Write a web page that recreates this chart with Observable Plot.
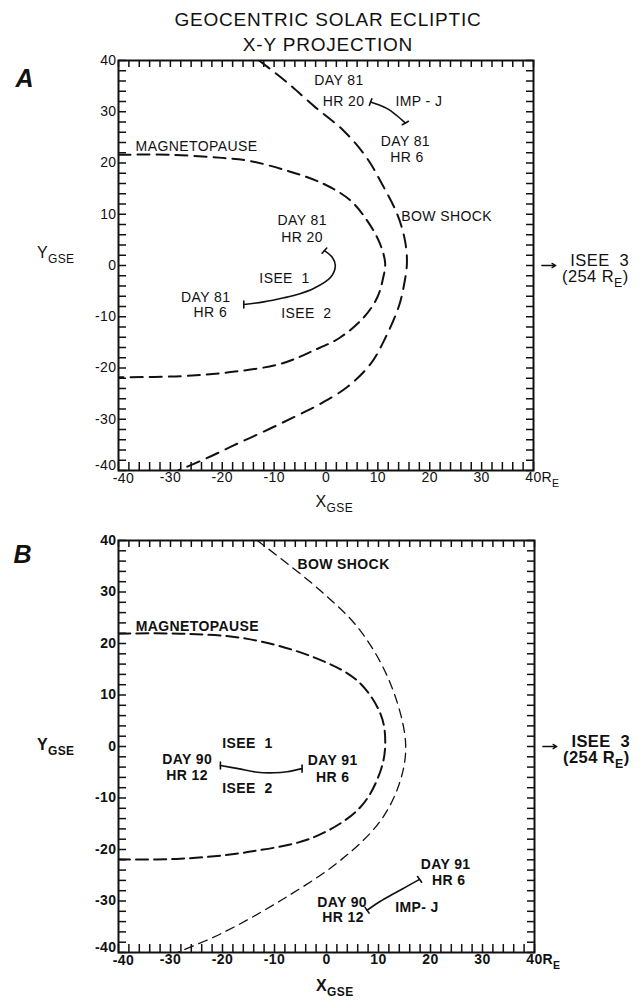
<!DOCTYPE html>
<html><head><meta charset="utf-8">
<script src="https://cdn.jsdelivr.net/npm/d3@7"></script>
<script src="https://cdn.jsdelivr.net/npm/@observablehq/plot@0.6"></script>
<style>
body{margin:0;background:#fff;font-family:"Liberation Sans",Arial,sans-serif;color:#111}
#wrap{position:relative;width:644px;height:1000px;overflow:hidden;background:#fff}
.title{position:absolute;z-index:2;left:0;width:656px;text-align:center;font-size:19px;line-height:25px;letter-spacing:0.8px;top:7px}
#pa{position:absolute;top:40px;left:0;z-index:1}
#pb{position:absolute;top:520px;left:0;z-index:1}
</style></head><body>
<div id="wrap">
<div id="pa"></div><div id="pb"></div>
<div class="title">GEOCENTRIC SOLAR ECLIPTIC<br>X-Y PROJECTION</div>
</div>
<script>
// ---- axis ticks ----
const minorTicks = d3.range(-40, 41, 2);
const tickLabels = [-40, -30, -20, -10, 0, 10, 20, 30, 40];

// ---- Panel A (Day 81) ----
const magnetopauseA = [[-40,21.6],[-30,21.6],[-20,21.0],[-15.2,20.5],[-7.5,18.5],[-0.4,15.9],[4.7,12.7],[7.9,8.8],[10.3,4.5],[11.4,0.5],[11.0,-2.5],[9.9,-6.2],[7.3,-10.1],[2.8,-14],[-2.4,-16.6],[-8.8,-19.2],[-18.4,-20.8],[-28,-21.6],[-40,-21.8]];
const bowShockA = [[-12.9,40],[-7.6,35.8],[-2.2,31.0],[3.4,26.3],[7.8,21.1],[10.8,15.9],[13.7,10.1],[15.2,5],[15.6,0.5],[15.0,-4],[14.0,-8.1],[11.5,-14],[8.6,-19.2],[4.1,-23.7],[-1.1,-27],[-6.2,-29.6],[-12,-32.4],[-18,-35.2],[-23,-37.6],[-28.5,-40]];
const iseeA = [[-15.85,-7.6],[-12,-7.1],[-8.1,-6.3],[-5,-5.5],[-2.4,-4.5],[0.9,-2.3],[1.8,0],[1.2,1.6],[-0.3,2.9]];
const impA = [[8.6,31.9],[10,31.4],[11.8,30.6],[13.6,29.3],[15.3,27.8]];
const capsA = [[-15.85,-7.6,0],[-0.3,2.9,41],[8.6,31.9,20],[15.3,27.8,60]];
const labelsA = [
  {t:"DAY 81",x:2.5,y:36},{t:"HR 20",x:3.4,y:31.9},{t:"IMP - J",x:17.9,y:31.9},
  {t:"DAY 81",x:15.3,y:24.1},{t:"HR 6",x:15.6,y:21.1},
  {t:"DAY 81",x:-4.6,y:8.8},{t:"HR 20",x:-4.6,y:5.5},
  {t:"ISEE  1",x:-8.0,y:-2.5},{t:"ISEE  2",x:-3.8,y:-9.4},
  {t:"DAY 81",x:-23.2,y:-6.2},{t:"HR 6",x:-22.3,y:-9.1}
];
const leftLabelsA = [{t:"MAGNETOPAUSE",x:-36.7,y:23.2},{t:"BOW SHOCK",x:14.5,y:9.5}];

// ---- Panel B (Days 90-91) ----
const magnetopauseB = [[-40,21.9],[-28.1,21.9],[-15.2,20.9],[-2.4,17.3],[5.9,12.8],[10.4,6.3],[11.3,0.8],[10.4,-4.7],[6.5,-11.8],[-2.4,-17.6],[-15.2,-20.5],[-28.1,-21.8],[-40,-21.9]];
const bowShockB = [[-13.3,40],[-1.2,30.3],[6.5,22.5],[12.3,12.2],[15.2,0.8],[14.2,-6.6],[10.4,-14.4],[2.7,-22.1],[-8.8,-29.9],[-20.4,-36.4],[-28.7,-40]];
const iseeB = [[-20.4,-3.7],[-17,-4.3],[-13.3,-5.0],[-10,-5.1],[-7.6,-4.9],[-4.7,-4.3]];
const impB = [[7.8,-31.8],[10.3,-30.1],[12.9,-28.6],[15.4,-27.2],[17.9,-25.8]];
const capsB = [[-20.4,-3.7,0],[-4.7,-4.3,0],[7.8,-31.8,-35],[17.9,-25.8,-35]];
const labelsB = [
  {t:"ISEE  1",x:-15.2,y:0.5},{t:"ISEE  2",x:-15.2,y:-8.2},
  {t:"DAY 90",x:-26.8,y:-2.5},{t:"HR 12",x:-26.8,y:-5.6},
  {t:"DAY 91",x:1.2,y:-2.7},{t:"HR 6",x:1.2,y:-6.0},
  {t:"DAY 91",x:22.9,y:-22.9},{t:"HR 6",x:23.5,y:-26.0},
  {t:"DAY 90",x:3.0,y:-30.2},{t:"HR 12",x:3.2,y:-33.3},
  {t:"IMP- J",x:17.4,y:-31.2}
];
const leftLabelsB = [{t:"BOW SHOCK",x:-5.6,y:35.3},{t:"MAGNETOPAUSE",x:-36.7,y:23.3}];

// ISEE 3 pointer (off the right edge)
const isee3Arrow = [{x1:41.6,x2:44.3,y:0}];
const isee3Text = [{t:"ISEE  3",x:47.1,y:1.0},{t:"(254 R_{E})",x:45.5,y:-2.2}];

const capShape = {draw(ctx, l){ ctx.moveTo(0,0); ctx.lineTo(0,-l); }};
const INK = "#111";

function applySubscripts(svg){
  d3.select(svg).selectAll("text").each(function(){
    const s = this.textContent;
    if (!s.includes("_{")) return;
    const el = d3.select(this);
    const parts = s.split(/(_\{[^}]*\})/).filter(p => p);
    el.text(null);
    let shifted = false;
    for (const p of parts){
      const m = p.match(/^_\{(.*)\}$/);
      if (m){ el.append("tspan").attr("dy", 5).style("font-size","75%").text(m[1]); shifted = true; }
      else { const t = el.append("tspan").text(p); if (shifted){ t.attr("dy", -5); shifted = false; } }
    }
  });
}

function panel(o){
  const height = o.height, mt = 20, mb = o.mb, ml = 118, mr = o.mr;
  const fh = height - mt - mb, fw = 644 - ml - mr;
  const fw8 = o.bold ? "bold" : "normal";
  const xy = {x: d => d[0], y: d => d[1]};
  const inner = tickLabels.slice(1);
  const txt = {fontSize: 14, fontWeight: fw8, fill: INK};
  const svg = Plot.plot({
    width: 644, height, marginTop: mt, marginBottom: mb, marginLeft: ml, marginRight: mr,
    x: {domain: [-40, 40], axis: null},
    y: {domain: [-40, 40], axis: null},
    style: {fontFamily: '"Liberation Sans", Arial, sans-serif', fontSize: "14px", color: INK, background: "none", overflow: "visible", letterSpacing: "0.4px"},
    marks: [
      Plot.line(o.mp, {...xy, curve: "catmull-rom", stroke: INK, strokeWidth: o.mpW, strokeDasharray: o.mpDash, clip: true}),
      Plot.line(o.bow, {...xy, curve: "catmull-rom", stroke: INK, strokeWidth: o.bowW, strokeDasharray: o.bowDash, clip: true}),
      Plot.line(o.isee, {...xy, curve: "catmull-rom", stroke: INK, strokeWidth: 1.6}),
      Plot.line(o.imp, {...xy, curve: "catmull-rom", stroke: INK, strokeWidth: 1.6}),
      Plot.vector(o.caps, {...xy, rotate: d => d[2], length: 7, anchor: "middle", shape: capShape, stroke: INK, strokeWidth: 1.6}),
      Plot.frame({stroke: INK, strokeWidth: 2}),
      Plot.tickX(minorTicks, {x: d => d, insetBottom: fh - 7, stroke: INK, strokeWidth: 1.5}),
      Plot.tickX(minorTicks, {x: d => d, insetTop: fh - 8, stroke: INK, strokeWidth: 1.5}),
      Plot.tickY(minorTicks, {y: d => d, insetRight: fw - 8, stroke: INK, strokeWidth: 1.5}),
      Plot.tickY(minorTicks, {y: d => d, insetLeft: fw - 7, stroke: INK, strokeWidth: 1.5}),
      // tick labels
      Plot.text(inner, {x: d => d, frameAnchor: "bottom", dy: 11, text: d => String(d), ...txt}),
      Plot.text([tickLabels[0]], {x: d => d, frameAnchor: "bottom", dx: 5, dy: 12, text: d => String(d), ...txt}),
      Plot.text(inner, {y: d => d, frameAnchor: "left", textAnchor: "end", dx: -2, text: d => String(d), ...txt}),
      Plot.text([tickLabels[0]], {y: d => d, frameAnchor: "left", textAnchor: "end", dx: -2, dy: -5, text: d => String(d), ...txt}),
      Plot.text(["R_{E}"], {x: 40, frameAnchor: "bottom", textAnchor: "start", dx: 8, dy: 11, ...txt}),
      // axis titles
      Plot.text(["X_{GSE}"], {x: 1.6, frameAnchor: "bottom", dy: o.xTitleDy, ...txt, fontSize: 16}),
      Plot.text(["Y_{GSE}"], {y: o.yTitleY, frameAnchor: "left", textAnchor: "end", dx: -44, ...txt, fontSize: 16}),
      // annotations
      Plot.text(o.labels, {x: "x", y: "y", text: "t", ...txt}),
      Plot.text(o.leftLabels, {x: "x", y: "y", text: "t", textAnchor: "start", ...txt}),
      Plot.arrow(isee3Arrow, {x1: "x1", x2: "x2", y1: "y", y2: "y", stroke: INK, strokeWidth: 1.3, headLength: 5}),
      Plot.text(isee3Text, {x: "x", y: "y", text: "t", textAnchor: "start", ...txt, fontSize: 16.5}),
      Plot.text([o.letter], {frameAnchor: "top-left", dx: o.letterDx, dy: o.letterDy, fontSize: 25, fontWeight: "bold", fontStyle: "italic", fill: INK})
    ]
  });
  applySubscripts(svg);
  return svg;
}

document.getElementById("pa").append(panel({
  height: 480, mb: 50, mr: 111, mp: magnetopauseA, bow: bowShockA, isee: iseeA, imp: impA, caps: capsA,
  labels: labelsA, leftLabels: leftLabelsA, mpW: 2, mpDash: "12,7", bowW: 2, bowDash: "13,8",
  letter: "A", letterDx: -103, letterDy: 9, xTitleDy: 36, yTitleY: 2.4, bold: false
}));
document.getElementById("pb").append(panel({
  height: 480, mb: 48, mr: 110, mp: magnetopauseB, bow: bowShockB, isee: iseeB, imp: impB, caps: capsB,
  labels: labelsB, leftLabels: leftLabelsB, mpW: 2, mpDash: "12,6", bowW: 1.3, bowDash: "9,6",
  letter: "B", letterDx: -105, letterDy: 5, xTitleDy: 38, yTitleY: 0.4, bold: true
}));
</script>
</body></html>
